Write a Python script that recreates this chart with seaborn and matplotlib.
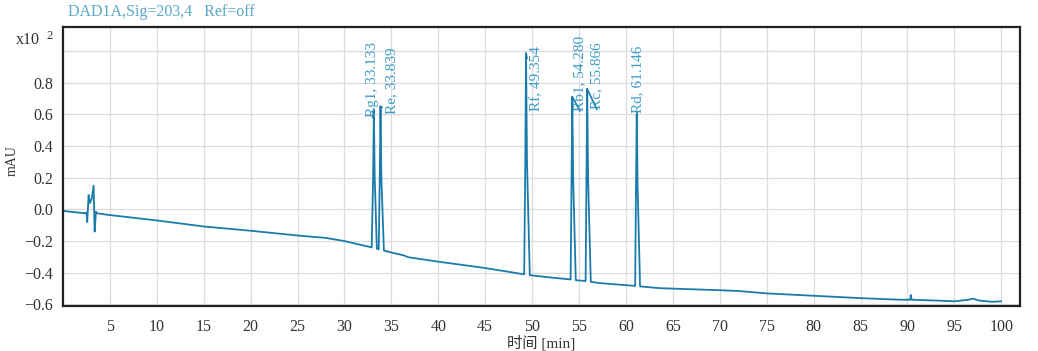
import matplotlib
matplotlib.use("Agg")
import matplotlib.pyplot as plt
import seaborn as sns
import pandas as pd

# trace (time in min, signal in x10^2 mAU)
trace_time = [0, 2.4, 2.51, 2.58, 2.73, 2.87, 3.08, 3.26, 3.37, 3.51, 3.65,
              5, 10, 15, 20, 25, 28, 30,
              32.9, 33.05, 33.13, 33.22, 33.45, 33.65, 33.76, 33.84, 33.93, 34.2,
              35, 36.3, 36.8, 40, 45,
              49.15, 49.27, 49.35, 49.45, 49.75,
              52, 54.1, 54.2, 54.28, 54.37, 54.65,
              55.7, 55.79, 55.87, 55.96, 56.25,
              57.2, 60.8, 60.98, 61.07, 61.15, 61.24, 61.5,
              63.6, 65, 70, 72, 75, 80, 85, 89.2, 90.3, 90.35, 90.45,
              93, 95, 96.5, 97, 97.6, 99, 100]
trace_signal = [-0.01, -0.025, -0.02, -0.08, 0.09, 0.04, 0.07, 0.15, -0.14, -0.015, -0.025,
                -0.036, -0.07, -0.108, -0.135, -0.165, -0.18, -0.20,
                -0.24, 0.2, 0.63, 0.2, -0.248, -0.252, 0.2, 0.65, 0.2, -0.26,
                -0.272, -0.29, -0.302, -0.33, -0.37,
                -0.41, 0.3, 0.985, 0.3, -0.415,
                -0.43, -0.442, 0.2, 0.71, 0.2, -0.447,
                -0.452, 0.2, 0.76, 0.2, -0.457,
                -0.465, -0.482, -0.483, 0.15, 0.60, 0.15, -0.486,
                -0.497, -0.5, -0.51, -0.515, -0.53, -0.545, -0.56, -0.57, -0.57, -0.54, -0.57,
                -0.575, -0.58, -0.57, -0.563, -0.575, -0.583, -0.58]

# peak labels
peak_names = ["Rg1", "Re", "Rf", "Rb1", "Rc", "Rd"]
peak_rt = [33.133, 33.839, 49.354, 54.280, 55.866, 61.146]
peak_top = [0.63, 0.65, 0.985, 0.71, 0.76, 0.60]
label_x = [33.0, 35.05, 50.5, 55.1, 56.9, 61.2]
label_y = [0.58, 0.60, 0.62, 0.62, 0.63, 0.61]

y_ticks = [-0.6, -0.4, -0.2, 0.0, 0.2, 0.4, 0.6, 0.8, 1.0]
x_ticks = list(range(5, 101, 5))

line_color = "#1b7bab"
label_color = "#3b9cc6"

sns.set_theme(style="whitegrid")
plt.rcParams["font.family"] = ["Liberation Serif", "Noto Sans CJK SC"]

fig, ax = plt.subplots(figsize=(10.38, 3.51), dpi=100)
fig.subplots_adjust(left=0.0607, right=0.9827, bottom=0.128, top=0.923)

df = pd.DataFrame({"time": trace_time, "signal": trace_signal})
sns.lineplot(data=df, x="time", y="signal", color=line_color, lw=1.3,
             estimator=None, sort=False, ax=ax)

for name, rt, top, lx, ly in zip(peak_names, peak_rt, peak_top, label_x, label_y):
    ax.annotate(f"{name}, {rt:.3f}", xy=(rt, top), xytext=(lx, ly),
                rotation=90, ha="center", va="bottom", color=label_color, fontsize=11,
                arrowprops=dict(arrowstyle="-", color=line_color, lw=1.2,
                                relpos=(0.5, 0), shrinkA=0, shrinkB=0))

ax.set_xlim(0, 102)
ax.set_ylim(-0.61, 1.15)
ax.set_xticks(x_ticks)
ax.set_xticklabels([str(t) for t in x_ticks])
ax.set_yticks(y_ticks)
ax.set_yticklabels([f"{v:.1f}".replace("-", "\u2212") for v in y_ticks[:-1]] + [""])

ax.grid(True, color="#dcdcdc", lw=0.9)
for sp in ax.spines.values():
    sp.set_color("#222222")
    sp.set_linewidth(1.6)
ax.tick_params(axis="both", direction="out", length=5, width=1.3, color="#222222",
               labelsize=11.5, labelcolor="#333333", pad=2)
ax.tick_params(axis="x", pad=4)

ax.set_xlabel("时间 [min]", fontsize=11, color="#333333", labelpad=0)
ax.set_ylabel("mAU", fontsize=10, color="#333333")
ax.yaxis.set_label_coords(-0.046, 0.52)

fig.text(68 / 1038, 1 - 12 / 351, "DAD1A,Sig=203,4   Ref=off", color="#5aa8c8",
         fontsize=11.5, va="center", ha="left")
fig.text(16 / 1038, 1 - 40 / 351, "x10", color="#333333", fontsize=11.5, va="center")
fig.text(46 / 1038, 1 - 36 / 351, "2", color="#333333", fontsize=9, va="center")

fig.savefig("out.png", dpi=100)
